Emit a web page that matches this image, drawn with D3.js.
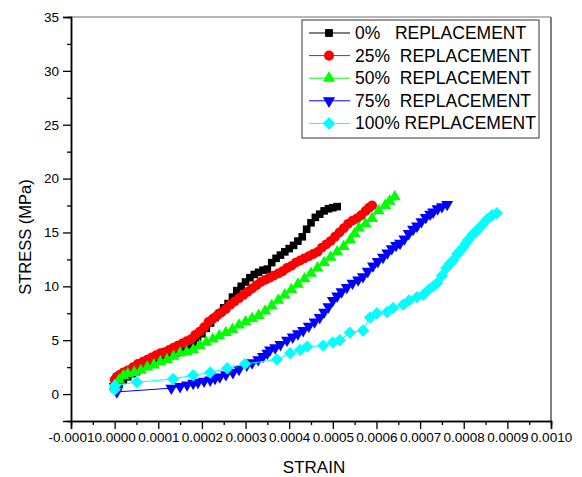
<!DOCTYPE html>
<html>
<head>
<meta charset="utf-8">
<script src="https://cdn.jsdelivr.net/npm/d3@7"></script>
<style>
  body { margin: 0; background: #fff; }
  svg { font-family: "Liberation Sans", Arial, sans-serif; }
</style>
</head>
<body>
<div id="chart"></div>
<script>
// strain values are in units of 1e-5
const strain0 = [0, 1, 2, 3, 4, 5, 6, 7, 8, 9, 10, 11, 12, 13, 14, 15, 16, 17, 18, 19, 20, 21, 22, 23, 24, 25, 26, 27, 28, 29, 30, 31, 32, 33, 34, 35, 36, 37, 38, 39, 40, 41, 42, 43, 44, 45, 46, 47, 48, 49, 50, 51];
const stress0 = [0.5, 0.9, 1.3, 1.6, 1.9, 2.1, 2.4, 2.6, 2.8, 3.0, 3.2, 3.3, 3.5, 3.7, 3.8, 4.0, 4.3, 4.5, 4.8, 5.2, 5.6, 6.1, 6.6, 7.1, 7.5, 8.0, 8.4, 9.0, 9.6, 10.0, 10.4, 10.8, 11.1, 11.3, 11.5, 11.6, 12.2, 12.6, 12.9, 13.2, 13.5, 13.8, 14.2, 14.6, 15.3, 15.9, 16.4, 16.7, 17.0, 17.2, 17.3, 17.4];

const strain25 = [0, 0.5, 1.2, 2, 3, 4.2, 5.3, 6.5, 7.5, 8.5, 9.5, 10.5, 11.5, 12.5, 13.5, 14.5, 15.5, 16.5, 17.5, 18.5, 19.5, 20.5, 21.5, 22.5, 23.5, 24.5, 25.5, 26.5, 27.5, 28.5, 29.5, 30.5, 31.5, 32.5, 33.5, 34.5, 35.5, 36.5, 37.5, 38.5, 39.5, 40.5, 41.5, 42.5, 43.5, 44.5, 45.5, 46.5, 47.5, 48.5, 49.5, 50.5, 51.5, 52.5, 53.5, 54.5, 55.5, 56.5, 57.5, 58.3, 59];
const stress25 = [1.3, 1.6, 1.8, 2.0, 2.2, 2.5, 2.8, 3.0, 3.2, 3.4, 3.6, 3.8, 3.9, 4.1, 4.3, 4.5, 4.7, 4.9, 5.1, 5.5, 5.8, 6.2, 6.7, 7.0, 7.3, 7.6, 7.9, 8.3, 8.6, 8.9, 9.2, 9.5, 9.8, 10.1, 10.4, 10.6, 10.8, 11.0, 11.2, 11.4, 11.7, 11.9, 12.2, 12.4, 12.6, 12.8, 13.0, 13.2, 13.6, 13.9, 14.2, 14.6, 15.0, 15.4, 15.8, 16.1, 16.3, 16.6, 17.0, 17.3, 17.5];

const strain50 = [0, 1, 2, 3, 4.5, 6, 7.5, 9, 10.5, 12, 13.5, 15, 16.5, 18, 19.5, 21, 22.5, 24, 25.5, 27, 28.5, 30, 31.5, 33, 34.5, 36, 37.5, 39, 40.5, 42, 43.5, 45, 46.5, 48, 49.5, 51, 52.5, 54, 55, 56, 57.5, 59, 60.5, 62, 63, 64.2];
const stress50 = [0.8, 1.3, 1.7, 1.9, 2.0, 2.2, 2.5, 2.7, 3.0, 3.2, 3.5, 3.8, 3.9, 4.1, 4.5, 4.8, 5.1, 5.4, 5.7, 6.0, 6.4, 6.7, 7.0, 7.3, 7.7, 8.2, 8.7, 9.2, 9.7, 10.2, 10.7, 11.2, 11.7, 12.2, 12.7, 13.2, 13.7, 14.3, 14.9, 15.4, 15.8, 16.3, 17.0, 17.5, 17.9, 18.3];

const strain75 = [0, 0.5, 13, 15, 16.6, 18, 19.1, 20.5, 21.9, 23, 24.1, 25.5, 27.1, 28.5, 30.3, 31.5, 32.9, 34, 35, 35.6, 36.8, 38, 39.5, 40.8, 42, 43.2, 44.5, 45.8, 47, 48, 49, 50, 51, 52, 53.2, 54.5, 55.8, 56.9, 58, 59.2, 60.3, 61.5, 62.5, 63.5, 64.5, 65.4, 66.4, 67.4, 68.4, 69.3, 70.3, 71.3, 72.3, 73, 74, 75, 76.2];
const stress75 = [0.7, 0.2, 0.55, 0.7, 0.85, 1.0, 1.1, 1.2, 1.3, 1.45, 1.6, 1.8, 2.0, 2.3, 2.7, 2.9, 3.2, 3.5, 3.8, 4.1, 4.3, 4.6, 5.0, 5.3, 5.6, 5.9, 6.3, 6.7, 7.1, 7.6, 8.1, 8.7, 9.1, 9.5, 9.9, 10.3, 10.6, 10.9, 11.4, 11.9, 12.3, 12.7, 13.1, 13.5, 13.8, 14.0, 14.4, 14.9, 15.3, 15.6, 16.0, 16.4, 16.7, 16.9, 17.2, 17.4, 17.6];

const strain100 = [0, 0.1, 5.1, 13.4, 18, 21.9, 25.8, 29.9, 37.2, 40.2, 42.5, 44.1, 47.8, 50, 51.6, 53.9, 56.9, 58.5, 60.1, 62.4, 63.8, 66.1, 67.5, 69.3, 70.7, 72, 73, 73.9, 75, 76, 76.8, 77.5, 78.5, 79.2, 79.8, 80.5, 81, 82, 82.6, 83, 84.2, 85.3, 86.5, 87.6];
const stress100 = [0.4, 0.8, 1.1, 1.4, 1.75, 2.0, 2.4, 2.8, 3.2, 3.8, 4.1, 4.4, 4.5, 4.8, 5.0, 5.7, 5.9, 7.1, 7.5, 7.6, 8.0, 8.3, 8.7, 9.0, 9.2, 9.7, 10.0, 10.3, 11.0, 11.7, 12.1, 12.4, 13.0, 13.3, 13.6, 14.0, 14.3, 14.8, 15.0, 15.2, 15.7, 16.2, 16.6, 16.8];

const seriesNames = ["0%   REPLACEMENT", "25%  REPLACEMENT", "50%  REPLACEMENT", "75%  REPLACEMENT", "100% REPLACEMENT"];
const seriesColors = ["#000000", "#ff0000", "#00ff00", "#0000ff", "#00ffff"];
const xTicks = [-0.0001, 0, 0.0001, 0.0002, 0.0003, 0.0004, 0.0005, 0.0006, 0.0007, 0.0008, 0.0009, 0.0010];
const yTicks = [0, 5, 10, 15, 20, 25, 30, 35];

const width = 582, height = 477;
const plot = { left: 71, right: 551, top: 17, bottom: 421 };

const series = [
  { strain: strain0, stress: stress0, symbol: d3.symbolSquare, size: 58, rotate: 0 },
  { strain: strain25, stress: stress25, symbol: d3.symbolCircle, size: 76, rotate: 0 },
  { strain: strain50, stress: stress50, symbol: d3.symbolTriangle, size: 62, rotate: 0 },
  { strain: strain75, stress: stress75, symbol: d3.symbolTriangle, size: 62, rotate: 180 },
  { strain: strain100, stress: stress100, symbol: d3.symbolSquare, size: 76, rotate: 45 },
].map((s, i) => ({
  ...s,
  name: seriesNames[i],
  color: seriesColors[i],
  points: s.strain.map((v, j) => ({ x: v * 1e-5, y: s.stress[j] })),
}));

const x = d3.scaleLinear().domain([-0.0001, 0.0010]).range([plot.left, plot.right]);
const y = d3.scaleLinear().domain([-2.5, 35]).range([plot.bottom, plot.top]);

const svg = d3.select("#chart").append("svg").attr("width", width).attr("height", height);

svg.append("rect").attr("width", width).attr("height", height).attr("fill", "#fff");

// frame: top and right in grey
svg.append("line")
  .attr("x1", plot.left).attr("x2", plot.right).attr("y1", plot.top).attr("y2", plot.top)
  .attr("stroke", "#6e6e6e").attr("stroke-width", 1.2);
svg.append("line")
  .attr("x1", plot.right).attr("x2", plot.right).attr("y1", plot.top).attr("y2", plot.bottom)
  .attr("stroke", "#808080").attr("stroke-width", 2);

// series lines and markers
const line = d3.line().x(d => x(d.x)).y(d => y(d.y));
series.forEach(s => {
  const g = svg.append("g");
  g.append("path")
    .attr("d", line(s.points))
    .attr("fill", "none")
    .attr("stroke", s.color)
    .attr("stroke-width", 1);
  g.selectAll("path.m")
    .data(s.points)
    .join("path")
    .attr("class", "m")
    .attr("d", d3.symbol(s.symbol, s.size))
    .attr("transform", d => `translate(${x(d.x)},${y(d.y)}) rotate(${s.rotate})`)
    .attr("fill", s.color);
});

// axes
const xAxis = d3.axisBottom(x).tickValues(xTicks).tickSize(8).tickPadding(3)
  .tickFormat(d => d3.format(".4f")(d).replace("−", "-"));
const xMinor = d3.axisBottom(x).tickValues(xTicks.slice(0, -1).map(v => v + 0.00005)).tickSize(4).tickFormat("");
const yAxis = d3.axisLeft(y).tickValues(yTicks).tickSize(8).tickPadding(4);
const yMinor = d3.axisLeft(y).tickValues(yTicks.map(v => v + 2.5).slice(0, -1)).tickSize(4).tickFormat("");

function styleAxis(g) {
  g.select(".domain").attr("stroke", "#000").attr("stroke-width", 1.5);
  g.selectAll(".tick line").attr("stroke", "#000").attr("stroke-width", 1.3);
  g.selectAll(".tick text").attr("fill", "#000").style("font-size", "13.5px")
    .style("font-family", "'Liberation Sans', Arial, sans-serif");
}

svg.append("g").attr("transform", `translate(0,${plot.bottom})`).call(xMinor).call(styleAxis);
svg.append("g").attr("transform", `translate(0,${plot.bottom})`).call(xAxis).call(styleAxis);
svg.append("g").attr("transform", `translate(${plot.left},0)`).call(yMinor).call(styleAxis);
svg.append("g").attr("transform", `translate(${plot.left},0)`).call(yAxis).call(styleAxis);

// axis titles
svg.append("text")
  .attr("x", (plot.left + plot.right) / 2 + 3)
  .attr("y", 473)
  .attr("text-anchor", "middle")
  .style("font-size", "17px")
  .text("STRAIN");
svg.append("text")
  .attr("transform", `translate(31,${(plot.top + plot.bottom) / 2 + 18}) rotate(-90)`)
  .attr("text-anchor", "middle")
  .style("font-size", "16.5px")
  .text("STRESS (MPa)");

// legend
const legend = svg.append("g");
legend.append("rect")
  .attr("x", 302).attr("y", 20).attr("width", 237).attr("height", 118)
  .attr("fill", "#fff").attr("stroke", "#333").attr("stroke-width", 1);
series.forEach((s, i) => {
  const ly = 33 + i * 22.6;
  legend.append("line")
    .attr("x1", 309).attr("x2", 350).attr("y1", ly).attr("y2", ly)
    .attr("stroke", s.color).attr("stroke-width", 1);
  legend.append("path")
    .attr("d", d3.symbol(s.symbol, s.size * 1.05)())
    .attr("transform", `translate(329,${ly}) rotate(${s.rotate})`)
    .attr("fill", s.color);
  legend.append("text")
    .attr("x", 355).attr("y", ly + 6)
    .style("font-size", "17.5px")
    .style("white-space", "pre")
    .attr("xml:space", "preserve")
    .text(s.name);
});
</script>
</body>
</html>
